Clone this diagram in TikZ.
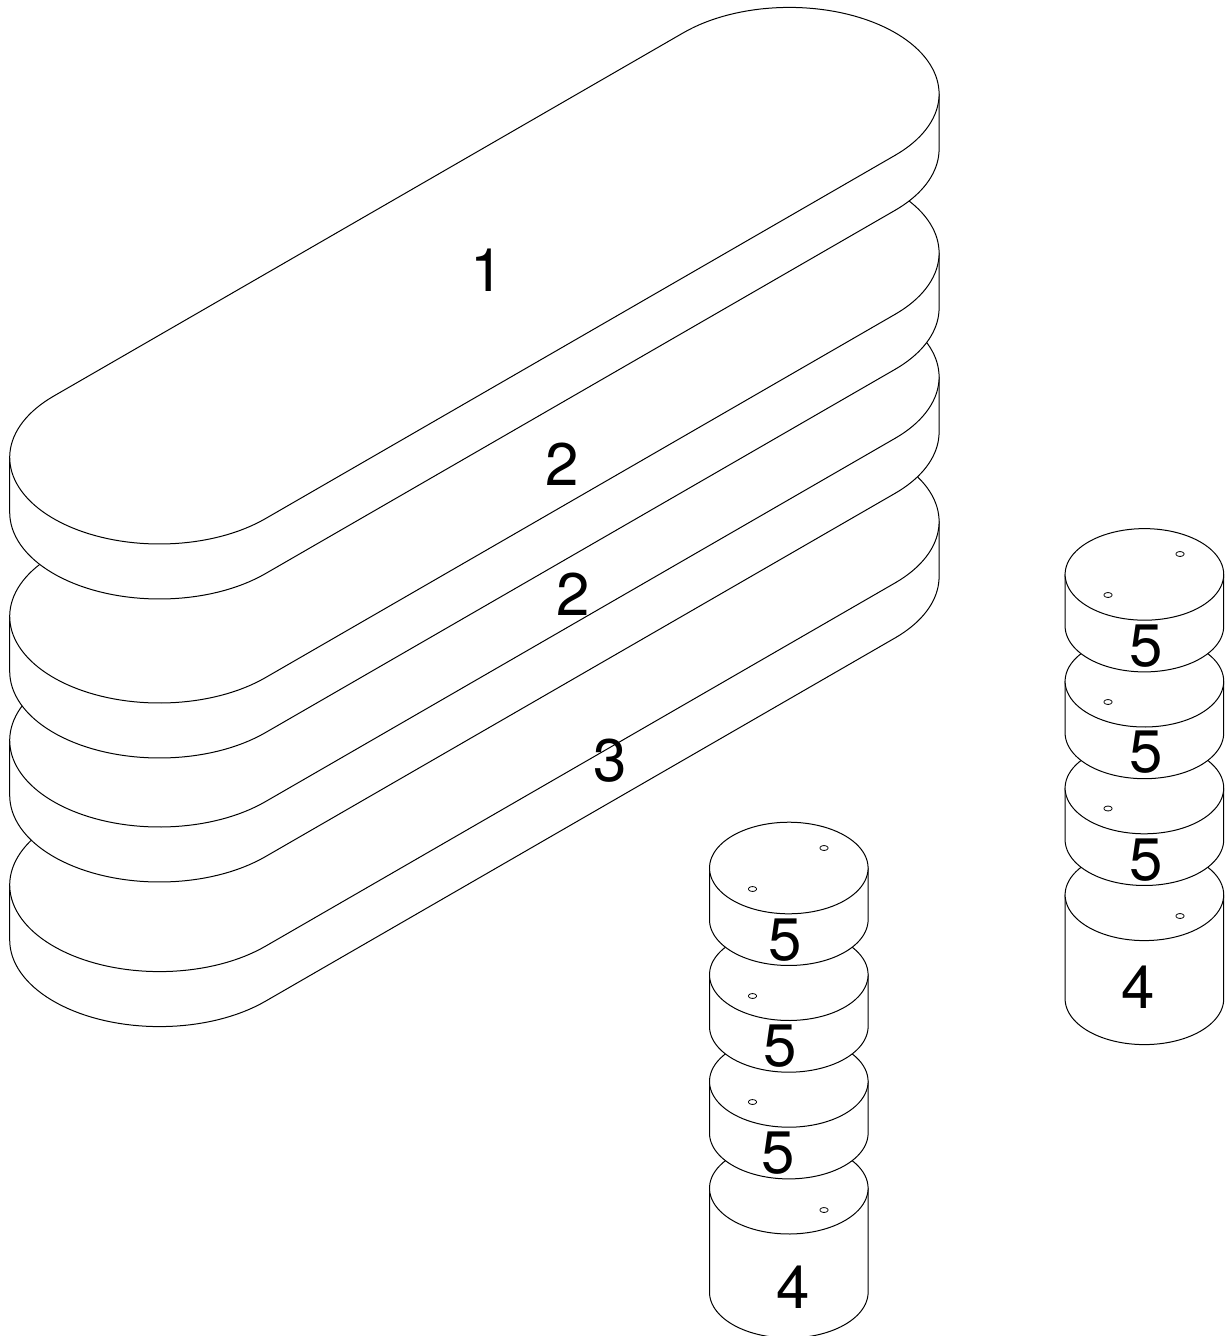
\documentclass[tikz,border=0pt]{standalone}
\usepackage{fontspec}
\setmainfont{TeX Gyre Heros}
\tikzset{
  solid part/.style={draw=black,fill=white,line width=1pt,line join=round},
  hole part/.style={draw=black,fill=white,line width=0.8pt},
  part label/.style={font=\fontsize{60}{60}\selectfont,inner sep=0pt,text=black}
}
% plate: #1 = vertical offset from the top plate
\newcommand{\plate}[1]{%
  \pgfmathsetmacro{\yL}{457.4+#1}%
  \pgfmathsetmacro{\yR}{94.0+#1}%
  \draw[solid part]
    plot[domain=180:45,samples=50,variable=\t] ({159.5+149.8*cos(\t)},{\yL+55+86.6*sin(\t)})
    -- plot[domain=45:0,samples=20,variable=\t] ({789.3+149.8*cos(\t)},{\yR+55+86.6*sin(\t)})
    -- ({789.3+149.8},{\yR}) -- ({159.5-149.8},{\yL}) -- cycle;
  \draw[solid part]
    plot[domain=45:225,samples=70,variable=\t] ({159.5+149.8*cos(\t)},{\yL+86.6*sin(\t)})
    -- plot[domain=225:405,samples=70,variable=\t] ({789.3+149.8*cos(\t)},{\yR+86.6*sin(\t)})
    -- cycle;
}
% cylinder: #1 cx, #2 cy of the top face, #3 height
\newcommand{\cyl}[3]{%
  \draw[solid part]
    ({#1-79.3},{#2}) --
    plot[domain=180:0,samples=60,variable=\t] ({#1+79.3*cos(\t)},{#2+#3+45.8*sin(\t)})
    -- ({#1+79.3},{#2}) -- cycle;
  \draw[solid part]
    plot[domain=0:360,samples=90,variable=\t] ({#1+79.3*cos(\t)},{#2+45.8*sin(\t)}) -- cycle;
}
\newcommand{\hole}[2]{%
  \draw[hole part]
    plot[domain=0:360,samples=24,variable=\t] ({#1+4*cos(\t)},{#2+2.4*sin(\t)}) -- cycle;
}
\begin{document}
\begin{tikzpicture}[x=1pt,y=-1pt]
\fill[white] (0,0) rectangle (1228,1336);
\useasboundingbox (0,0) rectangle (1228,1336);
\plate{427.6}
\plate{283}
\plate{159}
\plate{0}
% right stack
\cyl{1144.4}{894.8}{104}
\cyl{1144.4}{788}{51.7}
\cyl{1144.4}{681.2}{51.7}
\cyl{1144.4}{574.4}{51.7}
\hole{1180}{554}\hole{1108}{595}\hole{1108}{702}\hole{1108}{808.5}\hole{1180}{916}
% left stack
\cyl{788.8}{1188.2}{104}
\cyl{788.8}{1081.4}{51.7}
\cyl{788.8}{974.7}{51.7}
\cyl{788.8}{868}{51.7}
\hole{824}{848}\hole{752.5}{889}\hole{752.5}{996}\hole{752.5}{1102}\hole{824}{1210}
% labels
\node[part label] (n1) at (487,270) {1};
\node[part label] (n2a) at (562,464) {2};
\node[part label] (n2b) at (573,594) {2};
\node[part label] (n3) at (610,761) {3};
\node[part label] (r5a) at (1146,646) {5};
\node[part label] (r5b) at (1146,752) {5};
\node[part label] (r5c) at (1146,860) {5};
\node[part label] (r4) at (1138,987) {4};
\node[part label] (l5a) at (785,940) {5};
\node[part label] (l5b) at (780,1046) {5};
\node[part label] (l5c) at (778,1153) {5};
\node[part label] (l4) at (793.5,1287) {4};
\end{tikzpicture}
\end{document}
